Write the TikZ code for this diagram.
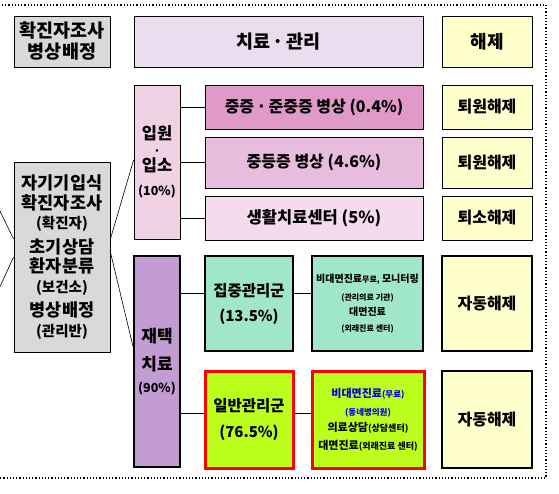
\documentclass[tikz,border=0pt]{standalone}
\usepackage{fontspec}
\setmainfont{Noto Sans CJK KR}
\usepackage{xcolor}
\usetikzlibrary{positioning}

\definecolor{grayfill}{HTML}{D9D9D9}
\definecolor{lavfill}{HTML}{EBDDF0}
\definecolor{yelfill}{HTML}{FFFFCC}
\definecolor{ipfill}{HTML}{F0D2E4}
\definecolor{jungfill}{HTML}{E09AC8}
\definecolor{jdjfill}{HTML}{E8BCDC}
\definecolor{saengfill}{HTML}{F4DCEE}
\definecolor{jaefill}{HTML}{C49CD4}
\definecolor{mintfill}{HTML}{A0E6C8}
\definecolor{limefill}{HTML}{BCFF1C}
\definecolor{linkblue}{HTML}{0000E6}

\newcommand{\szt}[2]{{\fontsize{#1}{#1}\selectfont #2}}
\newcommand{\mdot}{\makebox[0.9em]{·}}

\begin{document}
\begin{tikzpicture}[x=1pt, y=-1pt, on grid,
    box/.style={draw, line width=0.8pt, inner sep=0pt, align=center,
      font=\bfseries\fontsize{16}{16}\selectfont},
    thickbox/.style={box, line width=2pt},
    redbox/.style={box, draw=red, line width=3pt, fill=limefill},
    boxsize/.style 2 args={minimum width=#1pt, minimum height=#2pt},
    frame/.style={dotted, line width=1.2pt}]
    \useasboundingbox (0,0) rectangle (559,493);
    \draw[frame] (-10,5) rectangle (546,478);

    % Top row
    \node[box, fill=grayfill, boxsize={96}{51}, font=\bfseries\fontsize{18.5}{21}\selectfont]
        (josa) at (62,41.5) {확진자조사\\병상배정};
    \node[box, fill=lavfill, boxsize={289}{51}, font=\bfseries\fontsize{18.5}{21}\selectfont,
        right=216.5pt of josa] (gwanri) {치료\mdot 관리};
    \node[box, fill=yelfill, boxsize={90}{51}, font=\bfseries\fontsize{18}{21}\selectfont,
        right=208.5pt of gwanri] (haeje) {해제};

    % Triage
    \node[box, fill=grayfill, boxsize={96}{190}, font=\bfseries\fontsize{17.5}{19.5}\selectfont]
        (bunryu) at (62,257)
        {자기기입식\\확진자조사\\ \szt{14.5}{(확진자)}\\[5pt]초기상담\\환자분류\\ \szt{14.5}{(보건소)}\\[5pt]병상배정\\ \szt{14.5}{(관리반)}};

    % Hospital / centre
    \node[box, fill=ipfill, boxsize={46}{154}, font=\bfseries\fontsize{16.5}{16}\selectfont]
        (ipwon) at (157,162) {입원\\[0pt]\szt{12}{·}\\[0pt]입소\\[8pt]\szt{12.5}{(10\%)}};
    \node[box, fill=jungfill, boxsize={218}{44}] (jung) at (314,107) {중증\mdot 준중증 병상 (0.4\%)};
    \node[box, fill=jdjfill, boxsize={218}{51}, below=55.5pt of jung] (jdj) {중등증 병상 (4.6\%)};
    \node[box, fill=saengfill, boxsize={218}{44}, below=55.5pt of jdj,
        font=\bfseries\fontsize{16.5}{16}\selectfont] (saeng) {생활치료센터 (5\%)};
    \node[box, fill=yelfill, boxsize={90}{44}, right=173pt of jung] (twon1) {퇴원해제};
    \node[box, fill=yelfill, boxsize={90}{51}, right=173pt of jdj] (twon2) {퇴원해제};
    \node[box, fill=yelfill, boxsize={90}{44}, right=173pt of saeng] (tso) {퇴소해제};

    % Home treatment
    \node[thickbox, fill=jaefill, boxsize={46}{211}, font=\bfseries\fontsize{17}{16}\selectfont,
        below=199.5pt of ipwon] (jaetaek) {재택\\[12pt]치료\\[6pt]\szt{12.5}{(90\%)}};
    \node[thickbox, fill=mintfill, boxsize={88}{95}, font=\bfseries\fontsize{15.5}{16}\selectfont]
        (jipjung) at (249,303.5) {집중관리군\\[9pt]\szt{15}{(13.5\%)}};
    \node[thickbox, fill=mintfill, boxsize={111}{95}, right=118.5pt of jipjung,
        font=\bfseries\fontsize{10}{16}\selectfont] (bidae1)
        {비대면진료\szt{8}{무료,} 모니터링\\[2pt]\szt{8}{(관리의료 기관)}\\[-1pt]대면진료\\ \szt{8}{(외래진료 센터)}};
    \node[thickbox, fill=yelfill, boxsize={90}{95}, right=119.5pt of bidae1] (jadong1) {자동해제};
    \node[redbox, boxsize={88}{97}, font=\bfseries\fontsize{15.5}{16}\selectfont,
        below=116pt of jipjung] (ilban) {일반관리군\\[10pt]\szt{15}{(76.5\%)}};
    \node[redbox, boxsize={112}{97}, right=119pt of ilban,
        font=\bfseries\fontsize{11}{17}\selectfont] (bidae2)
        {\textcolor{linkblue}{비대면진료\szt{8.5}{(무료)}}\\[1pt]\textcolor{linkblue}{\szt{8.5}{(동네병의원)}}\\[-1pt]의료상담\szt{9}{(상담센터)}\\[1pt]대면진료\szt{9}{(외래진료 센터)}};
    \node[thickbox, fill=yelfill, boxsize={90}{97}, right=119pt of bidae2] (jadong2) {자동해제};

    % Connectors
    \coordinate (inA) at (-2,207);
    \coordinate (inB) at (-2,291);
    \coordinate (jipIn) at ([yshift=10.5pt]jipjung.west);
    \coordinate (ilbanIn) at ([yshift=6pt]ilban.west);
    \draw[line width=0.6pt] (inA) -- ([yshift=18pt]bunryu.west);
    \draw[line width=0.6pt] (inB) -- (bunryu.west);
    \draw[line width=0.6pt] ([yshift=18pt]bunryu.east) -- ([yshift=2pt]ipwon.west);
    \draw[line width=0.6pt] ([yshift=5pt]bunryu.east) -- ([yshift=15pt]jaetaek.west);
    \draw[line width=0.8pt] (ipwon.east |- jung.west) -- (jung.west);
    \draw[line width=0.8pt] (ipwon.east |- jdj.west) -- (jdj.west);
    \draw[line width=0.8pt] (ipwon.east |- saeng.west) -- (saeng.west);
    \draw[line width=0.8pt] (jaetaek.east |- jipIn) -- (jipIn);
    \draw[line width=0.8pt] (jipjung.east |- jipIn) -- (bidae1.west |- jipIn);
    \draw[line width=0.8pt] (jaetaek.east |- ilbanIn) -- (ilbanIn);
    \draw[line width=0.8pt] (ilban.east |- ilbanIn) -- (bidae2.west |- ilbanIn);
\end{tikzpicture}
\end{document}
